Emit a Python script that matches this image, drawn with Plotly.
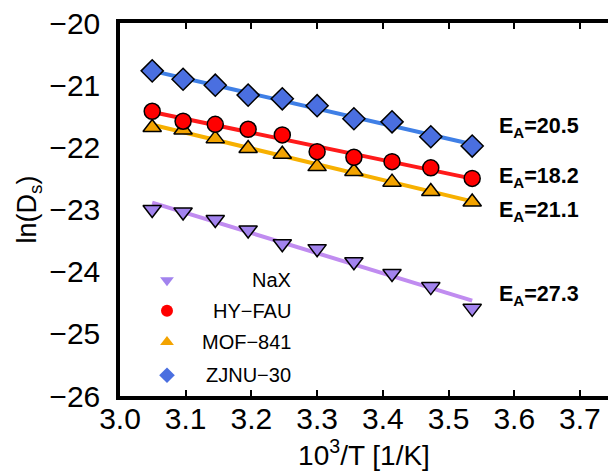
import numpy as np
import plotly.graph_objects as go

# ---- data ----
x_invT = [3.049, 3.096, 3.145, 3.195, 3.247, 3.300, 3.356, 3.414, 3.473, 3.536]
names = ["NaX", "HY\u2212FAU", "MOF\u2212841", "ZJNU\u221230"]
y_nax = [-23.00, -23.04, -23.16, -23.33, -23.55, -23.63, -23.84, -24.03, -24.24, -24.59]
y_hy = [-21.42, -21.58, -21.63, -21.71, -21.80, -22.07, -22.16, -22.23, -22.33, -22.50]
y_mof = [-21.68, -21.72, -21.86, -22.02, -22.11, -22.31, -22.39, -22.56, -22.71, -22.88]
y_zj = [-20.77, -20.905, -21.00, -21.16, -21.22, -21.33, -21.54, -21.59, -21.83, -21.98]
ea_labels = ["20.5", "18.2", "21.1", "27.3"]   # ZJNU, HY, MOF, NaX
ea_y = [-21.68, -22.48, -23.04, -24.38]
x_ticks = [3.0, 3.1, 3.2, 3.3, 3.4, 3.5, 3.6, 3.7]
y_ticks = [-26, -25, -24, -23, -22, -21, -20]

# ---- styles ----
marker_fill = {"NaX": "#a283ee", "HY": "#ff0000", "MOF": "#f3a300", "ZJ": "#4a6fe0"}
line_col = {"NaX": "#c08cf0", "HY": "#ff1a1a", "MOF": "#f7b000", "ZJ": "#3f7fe6"}
symbols = {"NaX": "triangle-down", "HY": "circle", "MOF": "triangle-up", "ZJ": "diamond"}

fig = go.Figure()
series = [("NaX", y_nax), ("MOF", y_mof), ("HY", y_hy), ("ZJ", y_zj)]
xs = np.array(x_invT)
for key, ys in series:
    k, b = np.polyfit(xs, np.array(ys), 1)
    xl = np.array([xs.min(), xs.max()])
    fig.add_trace(go.Scatter(x=xl, y=k * xl + b, mode="lines",
                             line=dict(color=line_col[key], width=4),
                             showlegend=False, hoverinfo="skip"))
for key, ys in series:
    fig.add_trace(go.Scatter(x=x_invT, y=ys, mode="markers",
                             marker=dict(symbol=symbols[key], size=16 if key != "ZJ" else 17,
                                         color=marker_fill[key],
                                         line=dict(color="black", width=1.5)),
                             showlegend=False))

# ---- manual legend (gnuplot style: marker left, text right-aligned) ----
leg_keys = ["NaX", "HY", "MOF", "ZJ"]
leg_y = [0.310, 0.2287, 0.1448, 0.0555]
leg_mx = 0.0963
leg_tx = 0.3545
for key, name, yy in zip(leg_keys, names, leg_y):
    fig.add_trace(go.Scatter(x=[leg_mx], y=[yy], mode="markers", xaxis="x2", yaxis="y2",
                             marker=dict(symbol=symbols[key], size=12, color=marker_fill[key]),
                             showlegend=False, hoverinfo="skip"))
    fig.add_annotation(x=leg_tx, y=yy, xref="paper", yref="paper", text=name,
                       showarrow=False, xanchor="right", yanchor="middle",
                       font=dict(size=20, color="black", family="Liberation Sans, Arial"))

for lab, yy in zip(ea_labels, ea_y):
    fig.add_annotation(x=3.574, y=yy, text="<b>E<sub>A</sub>=" + lab + "</b>",
                       showarrow=False, xanchor="left", yanchor="middle",
                       font=dict(size=21.5, color="black", family="Liberation Sans, Arial"))

fig.update_layout(
    width=608, height=476,
    margin=dict(l=120, r=0, t=23, b=80),
    plot_bgcolor="white", paper_bgcolor="white",
    font=dict(family="Liberation Sans, Arial", color="black"),
    xaxis=dict(range=[3.0, 3.7427], tickvals=x_ticks, ticktext=[f"{v:.1f}" for v in x_ticks],
               ticks="inside", ticklen=6, tickwidth=2, tickcolor="black",
               showline=True, linewidth=3.5, linecolor="black", mirror="ticks",
               showgrid=False, zeroline=False, tickfont=dict(size=30),
               ticklabelposition="outside", ticklabelstandoff=-7,
               title=dict(text="10<sup>3</sup>/T [1/K]", font=dict(size=28), standoff=10)),
    yaxis=dict(range=[-26, -20], tickvals=y_ticks,
               ticks="", showline=True, linewidth=3.5, linecolor="black",
               showgrid=False, zeroline=False, tickfont=dict(size=30), ticklabelstandoff=10,
               title=dict(text="ln(D<sub>s</sub>)", font=dict(size=27), standoff=6)),
    xaxis2=dict(range=[0, 1], overlaying="x", visible=False),
    yaxis2=dict(range=[0, 1], overlaying="y", visible=False),
)

fig.write_html("out.html")
